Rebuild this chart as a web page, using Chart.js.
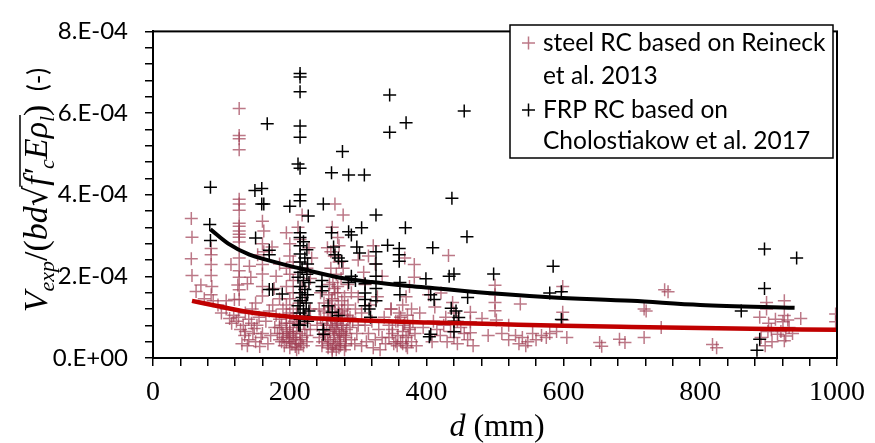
<!DOCTYPE html>
<html>
<head>
<meta charset="utf-8">
<script src="https://cdn.jsdelivr.net/npm/chart.js@4.4.1/dist/chart.umd.min.js"></script>
<style>
  html, body { margin: 0; padding: 0; background: #fff; }
</style>
</head>
<body>
<canvas id="chart" width="875" height="443"></canvas>
<script>
// values: d in mm, V in units of 1e-4
const steelPoints = [
  [56,3.42],[57,2.96],[56,2.43],[57,2.02],[70,1.79],[63,1.63],[85,2.68],[85,2.53],[85,2.29],[85,2.02],
  [86,1.75],[85,1.55],[88,1.40],[107,1.40],[107,1.20],[112,0.97],[95,1.30],[75,1.45],[100,1.10],[118,1.05],
  [114,2.29],[119,1.43],[115,0.85],
  [126,6.11],[126,5.45],[126,5.37],[126,5.10],[126,3.89],[126,3.77],[126,3.62],[126,3.30],[126,3.23],[126,3.11],
  [126,3.03],[126,2.96],[126,2.84],[126,2.45],[126,2.14],[126,1.98],[124,1.79],[126,1.67],[126,1.43],[141,2.25],
  [143,1.98],[138,1.82],[160,3.35],[162,3.11],[160,2.80],[153,2.53],[162,2.60],[174,2.72],[160,2.29],[160,2.06],
  [160,1.75],[160,1.52],[150,1.35],[145,1.20],[135,1.10],[140,0.95],[155,1.00],[165,0.90],[170,1.15],[175,1.30],
  [178,0.75],[148,0.72],[132,0.80],[160,0.60],[172,0.55],[185,0.45],[190,0.60],[168,0.35],[180,1.05],[185,1.45],
  [180,2.00],[185,2.30],[177,1.70],
  [122,0.90],[128,0.70],[134,0.55],[140,0.45],[146,0.60],[152,0.80],[158,0.50],[130,0.35],[138,0.30],[150,0.40],
  [156,0.28],[125,1.00],[144,0.85],[135,0.65],
  [195,3.07],[200,2.80],[200,2.50],[205,2.35],[195,2.20],[200,2.05],[205,1.90],[195,1.75],[205,1.60],[200,1.45],
  [195,1.30],[205,1.20],[200,1.10],[195,1.00],[210,0.95],[200,0.85],[205,0.75],[195,0.70],[210,0.65],[200,0.55],
  [205,0.50],[215,0.45],[195,0.40],[210,0.35],[220,0.30],[225,0.55],[230,0.70],[220,0.85],[225,1.00],[230,1.20],
  [215,1.35],[222,1.55],[218,1.75],[230,1.95],[225,2.20],[232,2.45],[228,2.70],[215,2.90],[212,3.20],[218,3.50],
  [210,0.20],[200,0.25],[188,0.80],[185,0.95],[190,1.20],[215,0.60],[210,1.10],[225,0.40],[200,0.65],[207,0.90],
  [182,0.60],[188,0.40],[192,0.30],[198,0.50],[203,0.35],[208,0.45],[213,0.25],[218,0.50],[222,0.70],[185,0.75],
  [195,0.85],[205,0.60],[212,0.80],[190,0.50],[200,0.40],[216,0.35],[208,0.28],[196,0.60],
  [266,3.77],[278,3.50],[262,3.20],[270,2.95],[255,2.70],[265,2.50],[272,2.35],[260,2.20],[268,2.05],[275,1.95],
  [258,1.80],[265,1.70],[270,1.60],[280,1.50],[262,1.45],[250,1.35],[258,1.25],[266,1.20],[272,1.10],[284,1.05],
  [245,1.00],[255,0.95],[262,0.90],[270,0.85],[278,0.80],[288,0.75],[250,0.70],[258,0.65],[265,0.60],[273,0.55],
  [282,0.50],[290,0.45],[248,0.40],[256,0.35],[264,0.30],[272,0.25],[280,0.20],[262,0.15],[270,0.45],[276,0.65],
  [252,0.55],[260,0.80],[268,1.00],[276,1.15],[285,1.30],[292,0.90],[296,1.20],[290,1.60],[285,1.80],[245,1.60],
  [240,0.80],[243,1.20],[255,0.45],[268,0.70],[274,0.95],[282,0.30],[298,0.60],[295,0.35],[288,1.00],[300,0.80],
  [278,2.20],[260,2.60],[272,2.75],
  [243,0.50],[247,0.30],[251,0.60],[254,0.80],[257,1.10],[259,0.40],[261,1.40],[263,0.70],[264,0.50],[266,1.60],
  [267,0.35],[269,0.90],[271,1.30],[272,0.60],[274,0.40],[276,0.80],[277,1.05],[279,0.55],[281,0.35],[283,0.70],
  [285,0.95],[256,0.25],[262,0.22],[268,0.20],[274,0.30],[260,1.00],[266,0.75],[270,1.75],[263,1.85],[257,1.55],
  [276,1.40],[280,1.20],[250,1.15],[248,0.85],[282,0.60],
  [305,1.10],[310,0.80],[315,0.60],[320,0.90],[325,0.45],[330,0.70],[335,0.50],[340,0.35],[318,1.30],[328,1.50],
  [312,0.40],[345,0.80],[350,0.60],[355,0.40],[305,0.30],[322,0.25],[338,1.00],[348,1.20],[300,1.50],[310,1.80],
  [332,0.20],[358,0.90],[308,2.10],[315,2.50],[325,2.30],[335,2.00],[322,2.75],[300,2.40],
  [368,2.45],[382,2.29],[382,1.98],[375,1.75],[370,1.50],[365,1.30],[378,1.20],[372,1.05],[380,0.90],[366,0.80],
  [375,0.70],[383,0.60],[370,0.50],[378,0.40],[365,0.35],[385,0.30],[372,0.25],[390,1.10],[395,0.75],[362,1.00],
  [345,0.50],[350,0.70],[352,0.35],[355,0.90],[358,0.55],[360,1.10],[362,0.40],[365,0.65],[368,0.85],[370,0.30],
  [373,0.55],[376,0.75],[348,1.20],[357,0.30],
  [403,1.55],[410,0.90],[415,0.70],[420,0.55],[425,0.80],[430,0.40],[435,0.65],[440,0.50],[445,0.35],[450,0.75],
  [432,2.51],[421,1.59],[438,1.36],[440,1.10],[445,0.90],[455,0.60],[464,1.12],[464,0.89],[464,0.62],[460,0.45],
  [468,0.30],[412,1.25],[428,1.00],[408,0.40],
  [481,0.97],[500,1.78],[500,1.55],[500,1.36],[500,1.16],[502,0.93],[537,1.32],[510,0.60],[520,0.45],[530,0.55],
  [540,0.50],[548,0.40],[555,0.60],[560,0.45],[568,0.55],[575,0.50],[580,0.60],[545,0.30],[535,0.35],[599,1.75],
  [599,1.12],[599,0.93],[590,0.65],[605,0.50],[520,0.80],[490,0.55],
  [653,0.38],[656,0.29],[682,0.46],[690,0.38],[718,1.20],[721,1.15],[748,1.67],[753,1.62],[743,0.75],[718,0.50],
  [818,0.33],[824,0.25],[887,1.00],[897,1.36],[897,1.20],[899,0.65],[889,0.50],[904,0.69],[923,1.40],[923,1.04],
  [921,0.89],[928,0.93],[918,0.65],[925,0.54],[923,0.42],[913,0.58],[947,0.97],[998,1.08],[998,0.89],[900,0.85],
  [910,0.95],[930,0.75],[935,0.60],[905,0.40],[895,0.30]
];

const frpPoints = [
  [215,6.97],[215,6.88],[215,6.52],[346,6.44],[455,6.05],[167,5.74],[215,5.68],[215,5.41],[346,5.53],[370,5.76],
  [277,5.06],[212,4.75],[215,4.65],[261,4.54],[286,4.48],[309,4.48],[84,4.18],[149,4.10],[159,4.15],[159,3.77],
  [162,3.77],[200,3.72],[215,4.00],[215,3.85],[249,3.77],[227,3.48],[326,3.50],[437,3.91],[83,3.27],[84,2.88],
  [150,2.94],[261,3.07],[286,3.09],[290,3.01],[305,3.19],[369,3.19],[459,2.97],[409,2.70],[170,2.64],[170,2.53],
  [215,3.07],[215,2.95],[220,2.85],[215,2.75],[225,2.65],[215,2.55],[222,2.45],[215,2.35],[226,2.30],[218,2.20],
  [215,2.10],[225,2.05],[212,1.98],[220,1.90],[228,1.85],[215,1.75],[222,1.68],[215,1.60],[226,1.55],[218,1.48],
  [215,1.40],[224,1.35],[212,1.28],[220,1.20],[228,1.15],[215,1.10],[222,1.02],[215,0.95],[226,0.90],[215,0.80],
  [264,2.72],[266,2.53],[271,2.45],[276,2.37],[298,2.72],[302,2.57],[290,2.00],[296,1.90],[286,1.85],
  [326,2.60],[326,2.30],[326,2.00],[326,1.70],[326,1.40],[310,1.82],[310,1.59],[310,1.43],[310,1.28],[316,1.20],
  [318,1.00],[343,2.76],[360,2.68],[360,2.53],[360,2.37],[361,1.85],[361,1.55],
  [399,1.94],[406,1.55],[411,1.43],[406,0.58],[433,2.00],[440,2.06],[436,1.22],[447,0.99],[443,1.15],[440,0.90],
  [498,2.06],[460,1.48],[170,1.68],[175,1.68],[189,1.57],[247,1.90],[247,1.75],[247,1.65],[256,1.28],[262,1.12],
  [271,1.04],[249,0.69],[249,0.58],[213,0.81],[404,0.52],[440,0.64],[585,2.25],[580,1.59],[597,1.62],[597,0.94],
  [894,2.67],[941,2.45],[894,1.70],[860,1.15],[887,0.46],[883,0.19]
];

// trend curves as traced on the picture
const frpTrend = [
  [84,3.15],[110,2.80],[141,2.53],[165,2.41],[208,2.22],[270,1.98],[320,1.86],[370,1.77],[405,1.72],
  [500,1.58],[580,1.49],[700,1.40],[800,1.30],[938,1.23]
];
const steelTrend = [
  [57,1.40],[92,1.28],[141,1.12],[189,1.03],[250,0.96],[320,0.91],[400,0.87],[500,0.83],[600,0.79],
  [700,0.76],[850,0.72],[1000,0.69]
];

const legendLines = [
  ['steel RC based on Reineck', 'et al. 2013'],
  ['FRP RC based on', 'Cholostiakow et al. 2017']
];

const pink = 'rgba(160,62,84,0.7)';
const toXY = arr => arr.map(p => ({ x: p[0], y: p[1] * 1e-4 }));

// box around the plot area
const framePlugin = {
  id: 'frame',
  afterDraw(chart) {
    const { ctx, chartArea: a } = chart;
    ctx.save();
    ctx.strokeStyle = '#000';
    ctx.lineWidth = 2;
    ctx.strokeRect(a.left, a.top, a.right - a.left, a.bottom - a.top);
    ctx.restore();
  }
};

const legendPlugin = {
  id: 'boxLegend',
  afterDraw(chart) {
    const ctx = chart.ctx;
    ctx.save();
    ctx.fillStyle = '#fff';
    ctx.fillRect(510, 25, 323, 133);
    ctx.strokeStyle = '#000';
    ctx.lineWidth = 1.5;
    ctx.strokeRect(510, 25, 323, 133);
    const marks = [pink, '#000'];
    const rows = [[43, 76], [110, 141]];
    ctx.font = '24.5px Lato';
    ctx.textBaseline = 'middle';
    legendLines.forEach((lines, i) => {
      ctx.strokeStyle = marks[i];
      ctx.lineWidth = 1.5;
      const cy = rows[i][0];
      ctx.beginPath();
      ctx.moveTo(522, cy); ctx.lineTo(535, cy);
      ctx.moveTo(528.5, cy - 6.5); ctx.lineTo(528.5, cy + 6.5);
      ctx.stroke();
      ctx.fillStyle = '#000';
      lines.forEach((t, j) => ctx.fillText(t, 543, rows[i][j]));
    });
    ctx.restore();
  }
};

// axis titles with subscripts and a radical bar
function drawRich(ctx, parts, x, y, barY) {
  let total = 0;
  parts.forEach(p => { ctx.font = p.f; p.w = ctx.measureText(p.t).width; total += p.w; });
  let cx = x - total / 2;
  let barStart = null;
  parts.forEach(p => {
    ctx.font = p.f;
    if (p.barOn) barStart = cx;
    ctx.fillText(p.t, cx, y + (p.dy || 0));
    cx += p.w;
    if (p.barOff) {
      ctx.beginPath();
      ctx.lineWidth = 1.5;
      ctx.moveTo(barStart - 1, y + barY);
      ctx.lineTo(cx + 1, y + barY);
      ctx.stroke();
    }
  });
}

const titlePlugin = {
  id: 'titles',
  afterDraw(chart) {
    const ctx = chart.ctx;
    ctx.save();
    ctx.fillStyle = '#000';
    ctx.strokeStyle = '#000';
    ctx.textBaseline = 'alphabetic';
    const S = 'Liberation Serif';
    const big = 'italic 34px ' + S, small = 'italic 22px ' + S, up = '34px ' + S;
    ctx.translate(47, 190);
    ctx.rotate(-Math.PI / 2);
    drawRich(ctx, [
      { t: 'V', f: big }, { t: 'exp', f: small, dy: 7 }, { t: '/(', f: up }, { t: 'bd', f: big },
      { t: '√', f: '32px DejaVu Serif' },
      { t: 'f′', f: big, barOn: true }, { t: 'c', f: small, dy: 7 }, { t: 'Eρ', f: big },
      { t: 'l', f: small, dy: 7, barOff: true }, { t: ')', f: up }, { t: '  (-)', f: '26px Lato' }
    ], 0, 0, -27);
    ctx.setTransform(1, 0, 0, 1, 0, 0);
    drawRich(ctx, [{ t: 'd', f: 'italic 32px ' + S }, { t: ' (mm)', f: '32px ' + S }], 497, 436, 0);
    ctx.restore();
  }
};

new Chart(document.getElementById('chart'), {
  type: 'scatter',
  data: {
    datasets: [
      {
        type: 'line', data: toXY(frpTrend), borderColor: '#000', borderWidth: 4,
        pointRadius: 0, fill: false, cubicInterpolationMode: 'monotone', order: 0
      },
      {
        type: 'line', data: toXY(steelTrend), borderColor: '#c00000', borderWidth: 4.5,
        pointRadius: 0, fill: false, cubicInterpolationMode: 'monotone', order: 0
      },
      {
        label: 'FRP RC', data: toXY(frpPoints), pointStyle: 'cross', pointRadius: 6.5,
        borderColor: '#000', pointBorderWidth: 1.5, order: 1
      },
      {
        label: 'steel RC', data: toXY(steelPoints), pointStyle: 'cross', pointRadius: 6.5,
        borderColor: pink, pointBorderWidth: 1.5, order: 2
      }
    ]
  },
  options: {
    responsive: false,
    animation: false,
    layout: { padding: { top: 16, right: 32, left: 0, bottom: 0 } },
    plugins: { legend: { display: false }, tooltip: { enabled: false } },
    scales: {
      x: {
        type: 'linear', min: 0, max: 1000,
        afterFit: s => { s.height = 85; },
        ticks: {
          stepSize: 40, autoSkip: false, maxRotation: 0, padding: 10, color: '#000',
          font: { family: 'Liberation Serif', size: 28 },
          callback: v => (v % 200 === 0 ? v : '')
        },
        grid: { drawOnChartArea: false, tickLength: 8, color: '#000', lineWidth: 1.5 },
        border: { color: '#000', width: 2 }
      },
      y: {
        min: 0, max: 8e-4,
        afterFit: s => { s.width = 153; },
        ticks: {
          stepSize: 0.4e-4, autoSkip: false, padding: 17, color: '#000',
          font: { family: 'Lato', size: 24 },
          callback: v => {
            const n = Math.round(v * 1e5) / 10;
            if (Math.abs(n / 2 - Math.round(n / 2)) > 1e-6) return '';
            return n === 0 ? '0.E+00' : n + '.E-04';
          }
        },
        grid: { drawOnChartArea: false, tickLength: 8, color: '#000', lineWidth: 1.5 },
        border: { color: '#000', width: 2 }
      }
    }
  },
  plugins: [framePlugin, legendPlugin, titlePlugin]
});
</script>
</body>
</html>
